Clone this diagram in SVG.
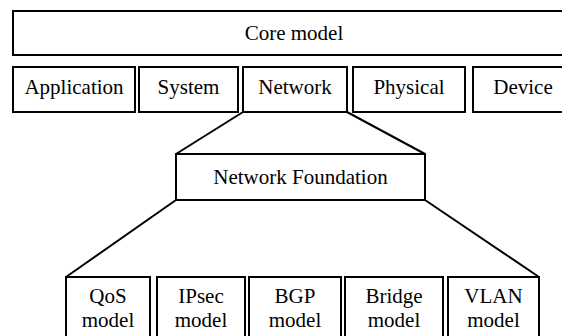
<svg xmlns="http://www.w3.org/2000/svg" width="562" height="336" viewBox="0 0 562 336">
<style>
rect{fill:#fff;stroke:#000;stroke-width:2}
text{font-family:'Liberation Serif','Times New Roman',Tinos,'DejaVu Serif',serif;font-size:21px;fill:#000;text-anchor:middle}
.c line{stroke:#000;stroke-width:2}
</style>
<rect x="0" y="0" width="562" height="336" style="stroke:none"/>
<g class="c" id="connectors">
<line x1="243" y1="112" x2="176" y2="154"/>
<line x1="347" y1="112" x2="425" y2="154"/>
<line x1="176" y1="200" x2="66" y2="277"/>
<line x1="425" y1="200" x2="539" y2="277"/>
</g>
<g id="core"><rect x="13" y="11" width="562" height="44"/><text x="294" y="40">Core model</text></g>
<g id="application"><rect x="13" y="67" width="122" height="45"/><text x="74" y="94">Application</text></g>
<g id="system"><rect x="139" y="67" width="99" height="45"/><text x="188.5" y="94">System</text></g>
<g id="network"><rect x="243" y="67" width="104" height="45"/><text x="295" y="94">Network</text></g>
<g id="physical"><rect x="353" y="67" width="112" height="45"/><text x="409" y="94">Physical</text></g>
<g id="device"><rect x="473" y="67" width="100" height="45"/><text x="523" y="94">Device</text></g>
<g id="foundation"><rect x="176" y="154" width="249" height="46"/><text x="300.5" y="184">Network Foundation</text></g>
<g id="qos"><rect x="66" y="277" width="84" height="70"/><text x="108" y="303">QoS</text><text x="108" y="327">model</text></g>
<g id="ipsec"><rect x="157" y="277" width="88" height="70"/><text x="201" y="303">IPsec</text><text x="201" y="327">model</text></g>
<g id="bgp"><rect x="249" y="277" width="92" height="70"/><text x="295" y="303">BGP</text><text x="295" y="327">model</text></g>
<g id="bridge"><rect x="345" y="277" width="98" height="70"/><text x="394" y="303">Bridge</text><text x="394" y="327">model</text></g>
<g id="vlan"><rect x="448" y="277" width="91" height="70"/><text x="493.5" y="303">VLAN</text><text x="493.5" y="327">model</text></g>
</svg>
